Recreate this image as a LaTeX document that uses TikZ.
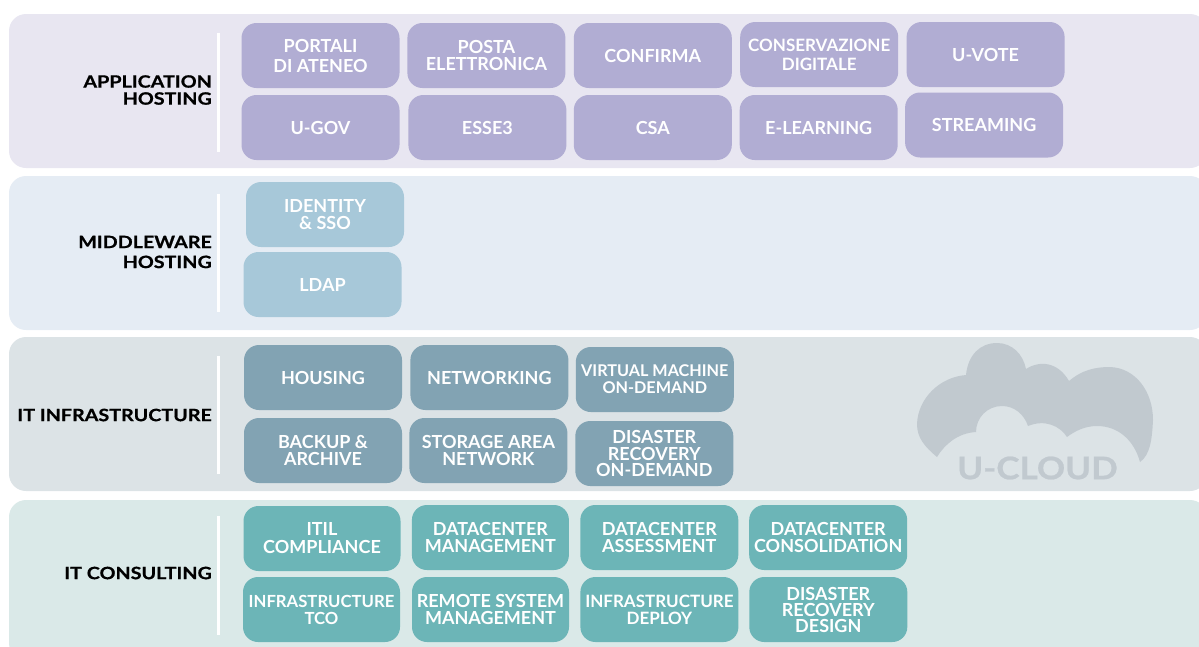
\documentclass[tikz,border=0pt]{standalone}
\usepackage{fontspec}
\setmainfont{Lato}
\newfontfamily\sidefont[UprightFont={* Bold},FakeStretch=1.16,FakeBold=0.7]{Lato}
\newfontfamily\cloudfont[UprightFont={* Bold},FakeStretch=1.13,FakeBold=0.7]{Lato}
\usepackage{tikz}
\usetikzlibrary{positioning}
\definecolor{appback}{HTML}{E8E6F1}
\definecolor{appbox}{HTML}{B1ADD3}
\definecolor{midback}{HTML}{E5ECF4}
\definecolor{midbox}{HTML}{A7C8D9}
\definecolor{infback}{HTML}{DCE3E6}
\definecolor{infbox}{HTML}{82A3B3}
\definecolor{conback}{HTML}{DAE9E8}
\definecolor{conbox}{HTML}{6CB5B7}
\definecolor{cloudgrey}{HTML}{C1C9CF}
\begin{document}
\begin{tikzpicture}[x=1pt,y=-1pt,
  panel/.style={rounded corners=17pt,minimum width=1198pt,minimum height=154pt,inner sep=0pt},
  box/.style={rounded corners=15pt,minimum width=158pt,minimum height=65pt,inner sep=0pt,align=center,text=white,font=\fontsize{18}{17}\selectfont\bfseries},
  side/.style={anchor=east,align=right,text=black,inner sep=0pt,font=\fontsize{17}{17}\selectfont\sidefont},
  sepline/.style={draw=white,line width=3pt},
  node distance=8pt]
\useasboundingbox (0,0) rectangle (1199,646);
\node[panel,fill=appback] (apppanel) at (608,91) {};
\node[panel,fill=midback] (midpanel) at (608,253) {};
\node[panel,fill=infback] (infpanel) at (608,414) {};
\node[panel,fill=conback,minimum height=160pt] (conpanel) at (608,580) {};
\draw[sepline] (218,33) -- (218,152);
\draw[sepline] (218,194) -- (218,312);
\draw[sepline] (218,356) -- (218,474);
\draw[sepline] (218,516) -- (218,635);
\node[side] (applabel) at (212,90) {APPLICATION\\HOSTING};
\node[side,font=\fontsize{17}{20}\selectfont\sidefont] (midlabel) at (212,252) {MIDDLEWARE\\HOSTING};
\node[side] (inflabel) at (212,415) {IT INFRASTRUCTURE};
\node[side] (conlabel) at (212,573) {IT CONSULTING};
% application hosting
\node[box,fill=appbox,font=\fontsize{18}{20}\selectfont\bfseries] (portali) at (320.5,55.5) {PORTALI\\DI ATENEO};
\node[box,fill=appbox,right=7.5pt of portali] (posta) {POSTA\\ELETTRONICA};
\node[box,fill=appbox,right=of posta,font=\fontsize{18}{17}\selectfont\bfseries] (confirma) {CONFIRMA};
\node[box,fill=appbox,right=of confirma,yshift=1pt,font=\fontsize{17}{19}\selectfont\bfseries] (conservazione) {CONSERVAZIONE\\DIGITALE};
\node[box,fill=appbox,right=of conservazione] (uvote) {U-VOTE};
\node[box,fill=appbox] (ugov) at (320.5,127.5) {U-GOV};
\node[box,fill=appbox,right=of ugov,xshift=0.5pt] (esse) {ESSE3};
\node[box,fill=appbox,right=of esse,xshift=-1pt] (csa) {CSA};
\node[box,fill=appbox,right=7.5pt of csa] (elearning) {E-LEARNING};
\node[box,fill=appbox,right=7pt of elearning,yshift=2.5pt] (streaming) {STREAMING};
% middleware hosting
\node[box,fill=midbox] (identity) at (325,214.5) {IDENTITY\\\& SSO};
\node[box,fill=midbox] (ldap) at (322.5,284.5) {LDAP};
% it infrastructure
\node[box,fill=infbox] (housing) at (323,377.5) {HOUSING};
\node[box,fill=infbox,right=of housing] (networking) {NETWORKING};
\node[box,fill=infbox,right=of networking,xshift=-1pt,yshift=-2pt,font=\fontsize{16.2}{17}\selectfont\bfseries] (virtual) {VIRTUAL MACHINE\\ON-DEMAND};
\node[box,fill=infbox] (backup) at (323,450.5) {BACKUP \&\\ARCHIVE};
\node[box,fill=infbox,right=of backup,xshift=-1pt] (storage) {STORAGE AREA\\NETWORK};
\node[box,fill=infbox,right=of storage,xshift=-0.5pt,yshift=-3pt,font=\fontsize{18}{16.5}\selectfont\bfseries] (disaster) {DISASTER\\RECOVERY\\ON-DEMAND};
% it consulting
\node[box,fill=conbox,minimum width=157pt,font=\fontsize{18}{18}\selectfont\bfseries] (itil) at (322,538.5) {ITIL\\COMPLIANCE};
\node[box,fill=conbox,right=11pt of itil,minimum width=157pt,yshift=1pt] (dcman) {DATACENTER\\MANAGEMENT};
\node[box,fill=conbox,right=11pt of dcman] (dcass) {DATACENTER\\ASSESSMENT};
\node[box,fill=conbox,right=10.5pt of dcass] (dccon) {DATACENTER\\CONSOLIDATION};
\node[box,fill=conbox,minimum width=157pt,font=\fontsize{16.7}{17}\selectfont\bfseries] (tco) at (321.5,609.5) {INFRASTRUCTURE\\TCO};
\node[box,fill=conbox,minimum width=157pt] (remote) at (490.5,609.5) {REMOTE SYSTEM\\MANAGEMENT};
\node[box,fill=conbox,right=11pt of remote,font=\fontsize{17}{17}\selectfont\bfseries] (deploy) {INFRASTRUCTURE\\DEPLOY};
\node[box,fill=conbox,right=10.5pt of deploy,font=\fontsize{18}{16}\selectfont\bfseries] (design) {DISASTER\\RECOVERY\\DESIGN};
% cloud
\fill[cloudgrey] (937,457) .. controls (925,447) and (917,438) .. (917,424)
  .. controls (918,398) and (940,377) .. (966,375)
  .. controls (968,355) and (980,343) .. (997,343)
  .. controls (1012,343) and (1023,354) .. (1026,369)
  .. controls (1040,360) and (1058,362) .. (1069,381)
  .. controls (1082,370) and (1095,367) .. (1110,367)
  .. controls (1136,368) and (1153,392) .. (1153,420)
  .. controls (1152,440) and (1150,455) .. (1140,462)
  .. controls (1134,440) and (1118,426) .. (1097,426)
  .. controls (1085,426) and (1075,431) .. (1067,437)
  .. controls (1060,426) and (1045,419) .. (1028,426)
  .. controls (1024,414) and (1014,406) .. (1002,406)
  .. controls (987,406) and (976,418) .. (976,432)
  .. controls (958,433) and (945,444) .. (937,457) -- cycle;
\node[text=cloudgrey,font=\fontsize{31}{31}\selectfont\cloudfont,inner sep=0pt] (ucloud) at (1037.5,468) {U-CLOUD};
\end{tikzpicture}
\end{document}
